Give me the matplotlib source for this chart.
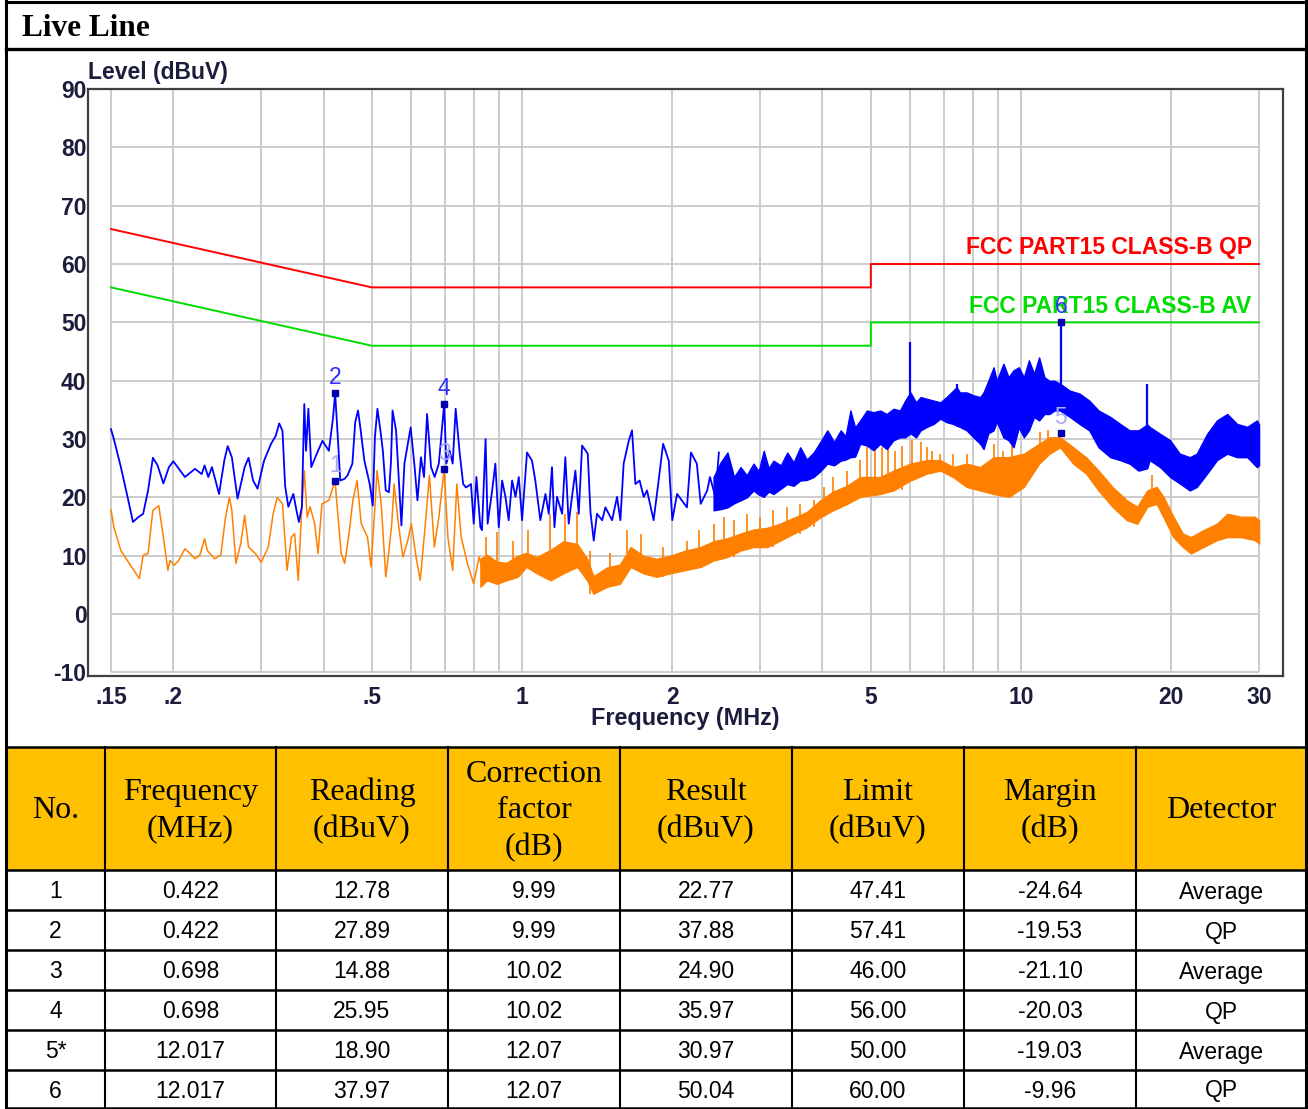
import matplotlib
matplotlib.use("Agg")
import matplotlib.pyplot as plt
from matplotlib.patches import Rectangle

plt.rcParams["axes.unicode_minus"] = False

# ---------------- data ----------------
# peak (QP scan) trace, discrete part
qp_freq = [0.150, 0.152, 0.157, 0.162, 0.166, 0.170, 0.174, 0.178, 0.182, 0.186, 0.191, 0.196, 0.200,
           0.211, 0.221, 0.228, 0.231, 0.235, 0.239, 0.247, 0.253, 0.257, 0.262, 0.269, 0.278, 0.283,
           0.289, 0.295, 0.304, 0.314, 0.321, 0.326, 0.331, 0.335, 0.340, 0.348, 0.353, 0.357, 0.362,
           0.366, 0.369, 0.373, 0.378, 0.390, 0.398, 0.410, 0.418, 0.422, 0.428, 0.432, 0.441, 0.447,
           0.457, 0.463, 0.469, 0.474, 0.483, 0.495, 0.502, 0.507, 0.513, 0.520, 0.526, 0.533, 0.541,
           0.546, 0.550, 0.559, 0.565, 0.573, 0.581, 0.598, 0.609, 0.617, 0.627, 0.636, 0.645, 0.657,
           0.668, 0.681, 0.698, 0.705, 0.716, 0.726, 0.736, 0.750, 0.762, 0.772, 0.790, 0.800, 0.810,
           0.825, 0.831, 0.845, 0.853, 0.871, 0.884, 0.898, 0.912, 0.926, 0.940, 0.955, 0.970, 0.985,
           1.000, 1.023, 1.047, 1.063, 1.088, 1.114, 1.131, 1.148, 1.161, 1.175, 1.203, 1.221, 1.240,
           1.259, 1.279, 1.299, 1.319, 1.354, 1.371, 1.392, 1.413, 1.447, 1.469, 1.515, 1.550, 1.574,
           1.598, 1.636, 1.661, 1.687, 1.720, 1.753, 1.780, 1.835, 1.878, 1.917, 1.968, 2.000, 2.045,
           2.090, 2.140, 2.180, 2.240, 2.280, 2.350, 2.380, 2.440, 2.480]
qp_level = [31.7, 30.0, 25.2, 20.0, 15.8, 16.6, 17.2, 21.2, 26.8, 25.5, 22.4, 25.2, 26.2,
            23.5, 24.9, 24.0, 25.5, 23.5, 25.2, 20.6, 26.3, 28.8, 26.9, 19.8, 25.2, 26.8,
            22.9, 21.5, 26.3, 29.2, 30.6, 32.7, 31.4, 22.0, 18.4, 20.6, 17.8, 15.8, 18.4,
            36.0, 28.0, 35.2, 25.2, 28.0, 29.7, 28.0, 33.7, 37.9, 29.2, 22.9, 23.2, 23.8,
            25.8, 32.9, 34.9, 32.0, 26.3, 22.3, 18.6, 30.3, 35.2, 31.5, 28.0, 21.2, 20.9,
            26.0, 34.9, 31.5, 24.6, 15.2, 25.8, 32.0, 25.2, 19.5, 26.9, 23.5, 34.3, 25.2,
            23.5, 25.8, 36.0, 25.8, 28.0, 25.8, 35.2, 27.5, 22.3, 21.7, 22.3, 15.5, 23.5,
            14.9, 14.4, 30.0, 15.5, 21.2, 25.8, 14.9, 22.9, 20.1, 16.1, 22.9, 20.1, 23.5,
            16.1, 27.7, 26.3, 22.9, 16.1, 20.6, 17.2, 25.2, 14.9, 20.1, 17.2, 26.9, 15.5,
            20.1, 24.6, 17.2, 28.9, 27.5, 17.5, 12.6, 17.2, 16.1, 18.3, 16.1, 20.1, 16.1,
            25.8, 29.7, 31.5, 22.3, 22.9, 20.1, 21.2, 16.1, 22.9, 29.2, 26.3, 16.1, 20.6,
            19.5, 18.3, 27.7, 25.8, 18.9, 21.2, 23.5, 20.1, 27.7]

# peak trace, dense part (envelope)
qp_band_freq = [2.42, 2.50, 2.58, 2.66, 2.74, 2.82, 2.91, 2.98, 3.05, 3.12, 3.19, 3.30, 3.40, 3.50,
                3.61, 3.72, 3.84, 3.96, 4.09, 4.22, 4.35, 4.45, 4.55, 4.65, 4.76, 4.91, 5.06, 5.22,
                5.38, 5.55, 5.72, 5.86, 6.00, 6.16, 6.29, 6.48, 6.68, 6.89, 7.09, 7.31, 7.43, 7.54,
                7.78, 8.03, 8.28, 8.41, 8.60, 8.81, 8.94, 9.22, 9.44, 9.66, 9.90, 10.13, 10.37,
                10.62, 10.87, 11.14, 11.40, 11.66, 11.97, 12.53, 13.1, 13.7, 14.3, 15.1, 15.8,
                16.5, 17.2, 17.9, 18.1, 19.0, 19.9, 20.8, 21.8, 22.5, 23.6, 24.7, 25.9, 27.1,
                28.4, 29.7, 30.0]
qp_band_low = [17.8, 18.0, 18.3, 19.0, 19.5, 20.0, 21.2, 20.5, 20.1, 21.0, 20.6, 21.5, 22.3, 22.0,
               22.9, 23.0, 23.5, 24.5, 25.8, 25.5, 26.3, 26.5, 26.9, 27.0, 29.2, 28.9, 28.1, 29.2,
               28.3, 29.8, 30.3, 30.3, 31.0, 30.3, 31.5, 32.1, 32.6, 33.5, 32.9, 32.6, 32.3, 32.1,
               31.5, 30.3, 29.2, 28.3, 31.0, 31.5, 33.0, 30.3, 29.8, 28.6, 32.0, 30.3, 31.5,
               33.8, 33.2, 34.3, 34.3, 34.9, 34.9, 33.8, 32.6, 31.5, 28.6, 26.9, 26.4,
               25.8, 24.6, 25.0, 26.4, 25.2, 23.5, 22.4, 21.2, 21.8, 24.1, 26.4, 27.5, 26.9,
               26.9, 25.2, 25.5]
qp_band_high = [23.5, 26.0, 27.7, 23.5, 25.2, 23.8, 25.8, 24.5, 28.0, 25.0, 26.3, 25.5, 27.7, 26.0,
                28.6, 26.5, 27.7, 29.5, 31.5, 29.5, 31.5, 30.5, 34.9, 32.0, 33.2, 34.9, 34.6, 34.9,
                34.3, 35.2, 34.9, 36.6, 38.0, 36.3, 37.2, 36.9, 36.6, 36.3, 37.2, 38.3, 38.9, 38.0,
                38.0, 37.5, 37.2, 38.0, 40.0, 42.3, 40.0, 42.9, 40.6, 41.8, 42.3, 40.6, 43.5,
                41.2, 44.0, 40.6, 40.0, 40.0, 39.5, 38.3, 37.8, 36.6, 34.9, 33.8, 32.6,
                31.5, 31.5, 32.5, 32.1, 30.9, 29.8, 27.5, 26.9, 27.5, 30.9, 33.2, 34.3, 32.6,
                32.1, 33.2, 32.5]
qp_spike_freq = [6.0, 7.43, 12.017, 17.9]
qp_spike_base = [32.0, 33.0, 37.0, 27.0]
qp_spike_top = [46.6, 39.5, 50.0, 39.5]

# average trace, discrete part
av_freq = [0.150, 0.152, 0.157, 0.164, 0.171, 0.174, 0.178, 0.182, 0.187, 0.191, 0.195, 0.197,
           0.201, 0.205, 0.211, 0.216, 0.221, 0.226, 0.231, 0.234, 0.242, 0.249, 0.254, 0.259,
           0.262, 0.267, 0.273, 0.278, 0.283, 0.292, 0.300, 0.310, 0.317, 0.323, 0.331, 0.338,
           0.345, 0.350, 0.356, 0.361, 0.366, 0.371, 0.376, 0.384, 0.390, 0.397, 0.410, 0.418,
           0.422, 0.426, 0.434, 0.441, 0.450, 0.458, 0.467, 0.476, 0.490, 0.498, 0.507, 0.512,
           0.522, 0.533, 0.541, 0.548, 0.554, 0.565, 0.577, 0.590, 0.600, 0.613, 0.625, 0.640,
           0.652, 0.667, 0.681, 0.698, 0.710, 0.726, 0.740, 0.755, 0.777, 0.800, 0.820, 0.841]
av_level = [17.9, 14.9, 10.9, 8.4, 6.1, 10.1, 10.4, 17.8, 18.6, 13.2, 7.5, 9.2,
            8.4, 9.2, 11.2, 10.4, 9.5, 10.1, 12.9, 10.9, 9.5, 10.1, 16.1, 20.0,
            17.8, 8.7, 12.1, 16.9, 11.5, 10.4, 8.9, 11.5, 17.2, 20.0, 18.9, 7.5,
            13.2, 13.8, 5.8, 16.6, 24.6, 16.6, 18.4, 15.5, 10.4, 18.9, 19.5, 21.8,
            22.8, 18.4, 10.4, 8.7, 13.8, 19.5, 22.9, 15.5, 13.2, 8.1, 18.4, 24.6,
            18.9, 6.4, 10.9, 15.5, 22.3, 15.5, 9.8, 12.6, 15.5, 9.8, 5.8, 15.5,
            23.8, 11.5, 16.6, 24.9, 13.2, 7.5, 22.3, 13.2, 8.7, 5.2, 9.8, 6.4]

# average trace, dense part (envelope)
av_band_freq = [0.825, 0.85, 0.89, 0.93, 0.98, 1.02, 1.07, 1.14, 1.21, 1.29, 1.35, 1.39, 1.48,
                1.57, 1.65, 1.75, 1.86, 1.98, 2.11, 2.28, 2.42, 2.58, 2.74, 2.91, 3.10, 3.29,
                3.5, 3.72, 3.96, 4.2, 4.48, 4.76, 5.22, 5.55, 6.0, 6.48, 6.89, 7.31, 7.78,
                8.28, 8.81, 9.44, 10.13, 10.87, 11.4, 11.98, 12.72, 13.5, 14.3, 15.25, 16.3,
                17.1, 17.9, 18.7, 19.3, 20.2, 21.1, 21.9, 23.2, 24.7, 25.9, 27.6, 29.4, 30.0]
av_band_low = [4.7, 5.8, 5.2, 5.8, 6.4, 8.1, 7.0, 5.8, 7.0, 8.1, 5.8, 3.5, 4.7,
               5.2, 8.1, 7.0, 6.4, 7.0, 7.5, 8.1, 9.2, 9.8, 10.9, 11.5, 11.5, 12.6,
               13.8, 14.9, 16.6, 17.8, 18.9, 20.1, 20.6, 21.2, 22.9, 24.1, 24.6, 23.5, 21.8,
               21.2, 20.6, 20.1, 21.8, 25.8, 27.5, 28.6, 25.8, 24.1, 21.2, 18.4, 16.1,
               15.5, 18.4, 18.9, 16.6, 13.2, 11.5, 10.4, 11.5, 12.7, 13.2, 13.2, 12.7, 12.1]
av_band_high = [9.5, 10.2, 9.0, 8.8, 10.0, 10.5, 9.8, 11.0, 12.5, 12.0, 9.5, 6.5, 8.0,
                8.5, 11.5, 10.0, 9.5, 10.0, 10.8, 11.5, 12.5, 13.0, 13.8, 14.5, 14.8, 15.5,
                16.5, 17.5, 19.5, 21.0, 22.0, 23.5, 23.5, 24.6, 25.8, 26.4, 26.4, 25.2, 25.8,
                25.2, 26.9, 26.9, 27.5, 29.2, 30.3, 30.3, 28.6, 26.9, 24.6, 21.8, 19.5,
                18.4, 21.2, 21.8, 20.1, 16.7, 13.8, 13.2, 14.4, 15.5, 17.2, 16.7, 16.7, 16.1]
av_spike_freq = [0.845, 0.89, 0.96, 1.03, 1.14, 1.22, 1.29, 1.37, 1.50, 1.62, 1.73, 1.92, 2.14,
                 2.26, 2.42, 2.54, 2.66, 2.83, 3.0, 3.19, 3.40, 3.61, 3.84, 4.02, 4.2, 4.48,
                 4.76, 4.91, 5.10, 5.27, 5.42, 5.59, 5.77, 6.05, 6.29, 6.48, 6.63, 6.89, 7.31,
                 7.78, 8.81, 9.22, 9.60, 10.9, 11.3, 18.3]
av_spike_top = [13.2, 14.0, 12.6, 14.4, 17.2, 17.2, 17.5, 10.9, 10.4, 14.4, 13.8, 11.5, 12.6,
                14.4, 15.5, 16.6, 16.1, 17.2, 16.6, 17.8, 18.3, 18.9, 19.5, 21.8, 23.5, 24.6,
                26.5, 28.6, 29.8, 28.6, 28.9, 28.0, 28.9, 29.8, 29.5, 28.6, 28.0, 27.5, 27.5,
                27.5, 29.2, 28.0, 29.5, 31.2, 31.5, 23.8]

# limit lines
qp_limit_freq = [0.15, 0.5, 5.0, 5.0, 30.0]
qp_limit_level = [66.0, 56.0, 56.0, 60.0, 60.0]
av_limit_freq = [0.15, 0.5, 5.0, 5.0, 30.0]
av_limit_level = [56.0, 46.0, 46.0, 50.0, 50.0]
qp_limit_label = "FCC PART15 CLASS-B QP"
av_limit_label = "FCC PART15 CLASS-B AV"

# axis ticks
x_ticks = [0.15, 0.2, 0.5, 1, 2, 5, 10, 20, 30]
x_tick_labels = [".15", ".2", ".5", "1", "2", "5", "10", "20", "30"]
x_grid = [0.15, 0.2, 0.3, 0.4, 0.5, 0.6, 0.7, 0.8, 0.9, 1, 2, 3, 4, 5, 6, 7, 8, 9, 10, 20, 30]
y_ticks = [-10, 0, 10, 20, 30, 40, 50, 60, 70, 80, 90]

# table
table_headers = ["No.", "Frequency\n(MHz)", "Reading\n(dBuV)", "Correction\nfactor\n(dB)",
                 "Result\n(dBuV)", "Limit\n(dBuV)", "Margin\n(dB)", "Detector"]
t_no = ["1", "2", "3", "4", "5*", "6"]
t_freq = [0.422, 0.422, 0.698, 0.698, 12.017, 12.017]
t_reading = [12.78, 27.89, 14.88, 25.95, 18.90, 37.97]
t_corr = [9.99, 9.99, 10.02, 10.02, 12.07, 12.07]
t_result = [22.77, 37.88, 24.90, 35.97, 30.97, 50.04]
t_limit = [47.41, 57.41, 46.00, 56.00, 50.00, 60.00]
t_margin = [-24.64, -19.53, -21.10, -20.03, -19.03, -9.96]
t_detector = ["Average", "QP", "Average", "QP", "Average", "QP"]

# ---------------- figure ----------------
W, H = 1308, 1109
fig = plt.figure(figsize=(W / 100, H / 100), dpi=100)
fig.patch.set_facecolor("white")

ov = fig.add_axes([0, 0, 1, 1])
ov.set_xlim(0, W)
ov.set_ylim(H, 0)
ov.axis("off")

SANS = ["Liberation Sans", "DejaVu Sans"]
SERIF = ["Liberation Serif", "DejaVu Serif"]
CHART_TXT = "#1c1c3c"

col_edges = [6, 105, 276, 448, 620, 792, 964, 1136, 1306]
row_edges = [747, 870, 910, 950, 990, 1030, 1070, 1108]
ov.add_patch(Rectangle((col_edges[0], row_edges[0]), col_edges[-1] - col_edges[0],
                       row_edges[1] - row_edges[0], facecolor="#FFC000", edgecolor="none", zorder=1))
ov.plot([6, 6], [1, 1108], color="black", lw=2.2, zorder=3, solid_capstyle="projecting")
ov.plot([1306, 1306], [1, 1108], color="black", lw=2.2, zorder=3, solid_capstyle="projecting")
ov.plot([6, 1306], [1.5, 1.5], color="black", lw=2.2, zorder=3)
ov.plot([6, 1306], [48.5, 48.5], color="black", lw=2.4, zorder=3)
for yy in row_edges:
    ov.plot([6, 1306], [yy, yy], color="black", lw=1.8, zorder=3)
for xx in col_edges[1:-1]:
    ov.plot([xx, xx], [row_edges[0], row_edges[-1]], color="black", lw=1.5, zorder=3)

ov.text(22, 28, "Live Line", fontsize=22.5, fontweight="bold", family=SERIF,
        ha="left", va="center", color="black")

for i, h in enumerate(table_headers):
    cx = (col_edges[i] + col_edges[i + 1]) / 2
    ov.text(cx, 811, h, fontsize=23, family=SERIF, ha="center", va="center",
            linespacing=1.33, color="black", zorder=4)

rows = []
for i in range(len(t_no)):
    rows.append([t_no[i], f"{t_freq[i]:.3f}", f"{t_reading[i]:.2f}", f"{t_corr[i]:.2f}",
                 f"{t_result[i]:.2f}", f"{t_limit[i]:.2f}", f"{t_margin[i]:.2f}", t_detector[i]])
for r, row in enumerate(rows):
    cy = (row_edges[r + 1] + row_edges[r + 2]) / 2 + 2
    for c, val in enumerate(row):
        cx = (col_edges[c] + col_edges[c + 1]) / 2
        ov.text(cx, cy, val, fontsize=16.5, family=SANS, ha="center", va="center",
                color="black", zorder=4)

# ---------------- chart ----------------
ax = fig.add_axes([88 / W, 1 - 676 / H, (1283 - 88) / W, (676 - 89) / H])
ax.set_facecolor("white")
ax.set_xscale("log")
ax.set_xlim(0.1349, 33.5)
ax.set_ylim(-10.6, 89.9)

GRID = "#c8c8c8"
ax.vlines(x_grid, -10, 90, color=GRID, lw=1.3, zorder=1)
ax.hlines(y_ticks, 0.15, 30, color=GRID, lw=1.3, zorder=1)

ORANGE = "#ff8000"
BLUE = "#0000ff"

# average trace
ax.fill_between(av_band_freq, av_band_low, av_band_high, color=ORANGE, lw=1.0, zorder=2)
av_spike_base = [av_band_low[min(range(len(av_band_freq)), key=lambda k: abs(av_band_freq[k] - f))]
                 for f in av_spike_freq]
ax.vlines(av_spike_freq, av_spike_base, av_spike_top, color=ORANGE, lw=1.2, zorder=2)
ax.plot(av_freq, av_level, color=ORANGE, lw=1.1, zorder=2)

# peak trace
ax.fill_between(qp_band_freq, qp_band_low, qp_band_high, color=BLUE, lw=1.0, zorder=3)
ax.vlines(qp_spike_freq, qp_spike_base, qp_spike_top, color=BLUE, lw=1.6, zorder=3)
ax.plot(qp_freq, qp_level, color=BLUE, lw=1.3, zorder=3)

# limits
ax.plot(qp_limit_freq, qp_limit_level, color="#ff0000", lw=1.4, zorder=4)
ax.plot(av_limit_freq, av_limit_level, color="#00dd00", lw=1.4, zorder=4)
ax.text(29.0, 62.8, qp_limit_label, color="#ff0000", fontsize=16.5, fontweight="bold",
        family=SANS, ha="right", va="center", zorder=5)
ax.text(29.0, 52.7, av_limit_label, color="#00dd00", fontsize=16.5, fontweight="bold",
        family=SANS, ha="right", va="center", zorder=5)

# markers
ax.plot(t_freq, t_result, "s", color="#0000b0", ms=5, zorder=6)
for i in range(len(t_freq)):
    col = "#b0a8f0" if t_detector[i] == "Average" else "#3030ff"
    ax.annotate(str(i + 1), (t_freq[i], t_result[i]), xytext=(0, 3), textcoords="offset points",
                ha="center", va="bottom", fontsize=16.5, color=col, family=SANS, zorder=7)

ax.set_xticks(x_ticks)
ax.set_xticklabels(x_tick_labels)
ax.xaxis.set_minor_locator(matplotlib.ticker.NullLocator())
ax.set_yticks(y_ticks)
ax.tick_params(length=0, labelsize=16.5, labelcolor=CHART_TXT)
ax.tick_params(axis="x", pad=7)
ax.tick_params(axis="y", pad=1)
for lab in ax.get_xticklabels() + ax.get_yticklabels():
    lab.set_fontweight("bold")
    lab.set_family(SANS)
for s in ax.spines.values():
    s.set_color("#404040")
    s.set_linewidth(1.6)

fig.text(88 / W, 1 - 72 / H, "Level (dBuV)", fontsize=16.5, fontweight="bold",
         family=SANS, ha="left", va="center", color=CHART_TXT)
fig.text(685 / W, 1 - 718 / H, "Frequency (MHz)", fontsize=16.8, fontweight="bold",
         family=SANS, ha="center", va="center", color=CHART_TXT)

fig.savefig("out.png", dpi=100)
